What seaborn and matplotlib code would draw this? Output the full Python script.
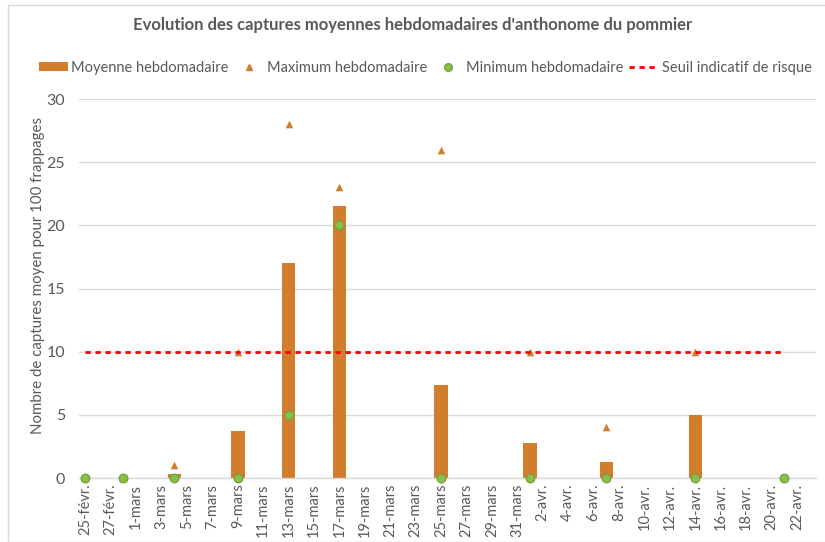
import matplotlib
matplotlib.use("Agg")
import matplotlib.pyplot as plt
import seaborn as sns
import pandas as pd
import numpy as np
from matplotlib.patches import Patch, Rectangle
from matplotlib.lines import Line2D

# ---- data ----
dates = ["2019-02-25", "2019-02-28", "2019-03-04", "2019-03-09", "2019-03-13",
         "2019-03-17", "2019-03-25", "2019-04-01", "2019-04-07", "2019-04-14",
         "2019-04-21"]
moyenne = [0.0, 0.0, 0.35, 3.7, 17.0, 21.5, 7.4, 2.8, 1.3, 5.0, 0.0]
maximum = [0.0, 0.0, 1.0, 10.0, 28.0, 23.0, 26.0, 10.0, 4.0, 10.0, 0.0]
minimum = [0.0, 0.0, 0.0, 0.0, 5.0, 20.0, 0.0, 0.0, 0.0, 0.0, 0.0]
seuil = [10, 10, 10, 10, 10, 10, 10, 10, 10, 10, 10]

axis_start = "2019-02-25"
tick_labels = ["25-févr.", "27-févr.", "1-mars", "3-mars", "5-mars", "7-mars",
               "9-mars", "11-mars", "13-mars", "15-mars", "17-mars", "19-mars",
               "21-mars", "23-mars", "25-mars", "27-mars", "29-mars", "31-mars",
               "2-avr.", "4-avr.", "6-avr.", "8-avr.", "10-avr.", "12-avr.",
               "14-avr.", "16-avr.", "18-avr.", "20-avr.", "22-avr."]

title = "Evolution des captures moyennes hebdomadaires d'anthonome du pommier"
ylabel = "Nombre de captures moyen pour 100 frappages"
legend_labels = ["Moyenne hebdomadaire", "Maximum hebdomadaire",
                 "Minimum hebdomadaire", "Seuil indicatif de risque"]

# ---- prep ----
start = pd.Timestamp(axis_start)
day = [(pd.Timestamp(d) - start).days for d in dates]
df = pd.DataFrame({"day": day, "moyenne": moyenne, "maximum": maximum,
                   "minimum": minimum, "seuil": seuil})

ORANGE = "#D27D2D"
GREEN_FILL = "#8BBF4D"
GREEN_EDGE = "#6FA83A"
RED = "#FF0000"
GRAY_TXT = "#595959"
GRID = "#D9D9D9"

sns.set_theme(style="white")
plt.rcParams["font.family"] = ["Lato", "DejaVu Sans"]

fig = plt.figure(figsize=(8.25, 5.42), dpi=100)
W, H = 825, 542
ax = fig.add_axes([79 / W, 1 - 478 / H, (816 - 79) / W, (478 - 99) / H])

sns.barplot(data=df, x="day", y="moyenne", native_scale=True, width=0.35,
            color=ORANGE, saturation=1, ax=ax, zorder=2, linewidth=0)
sns.scatterplot(data=df, x="day", y="maximum", marker="^", s=30, color=ORANGE,
                edgecolor=ORANGE, linewidth=0, ax=ax, zorder=3, clip_on=False)
sns.scatterplot(data=df, x="day", y="minimum", marker="o", s=38, color=GREEN_FILL,
                edgecolor=GREEN_EDGE, linewidth=1.0, ax=ax, zorder=4, clip_on=False)
sns.lineplot(data=df, x="day", y="seuil", color=RED, linewidth=2.0, ax=ax,
             zorder=5, errorbar=None)
ax.lines[-1].set_dashes([1.9, 1.7])

n_days = 2 * (len(tick_labels) - 1)
ax.set_xlim(-0.5, n_days + 1.5)
ax.set_ylim(0, 30)
ax.set_yticks([0, 5, 10, 15, 20, 25, 30])
ax.set_xticks(np.arange(0, n_days + 1, 2))
ax.set_xticklabels(tick_labels, rotation=90, fontsize=10.5, color=GRAY_TXT)
ax.tick_params(axis="y", labelsize=11.5, labelcolor=GRAY_TXT, length=0, pad=10)
ax.tick_params(axis="x", length=0, pad=4)
ax.grid(axis="y", color=GRID, linewidth=1)
ax.set_axisbelow(True)
for s in ["top", "right", "left"]:
    ax.spines[s].set_visible(False)
ax.spines["bottom"].set_color(GRID)
ax.spines["bottom"].set_linewidth(1)
ax.set_xlabel("")
ax.set_ylabel(ylabel, fontsize=10.8, color=GRAY_TXT)
ax.yaxis.set_label_coords(-0.046, 0.533)

fig.text(0.5, 1 - 25 / H, title, ha="center", va="center", fontsize=12.0,
         fontweight="bold", color=GRAY_TXT)

handles = [
    Patch(facecolor=ORANGE, edgecolor="none"),
    Line2D([], [], linestyle="none", marker="^", markersize=5, color=ORANGE),
    Line2D([], [], linestyle="none", marker="o", markersize=5.5,
           markerfacecolor=GREEN_FILL, markeredgecolor=GREEN_EDGE),
    Line2D([], [], color=RED, linewidth=2.0, dashes=[1.9, 1.7]),
]
leg = fig.legend(handles, legend_labels, loc="center",
                 bbox_to_anchor=(425 / W, 1 - 68 / H), ncol=4, frameon=False,
                 fontsize=10.5, handlelength=2.0, handletextpad=0.2,
                 columnspacing=0.45, handleheight=0.6)
for t in leg.get_texts():
    t.set_color(GRAY_TXT)

fig.patches.append(Rectangle((8 / W, 0), 1, 1 - 5 / H, transform=fig.transFigure,
                             fill=False, edgecolor=GRID, linewidth=1))

fig.savefig("out.png", dpi=100)
